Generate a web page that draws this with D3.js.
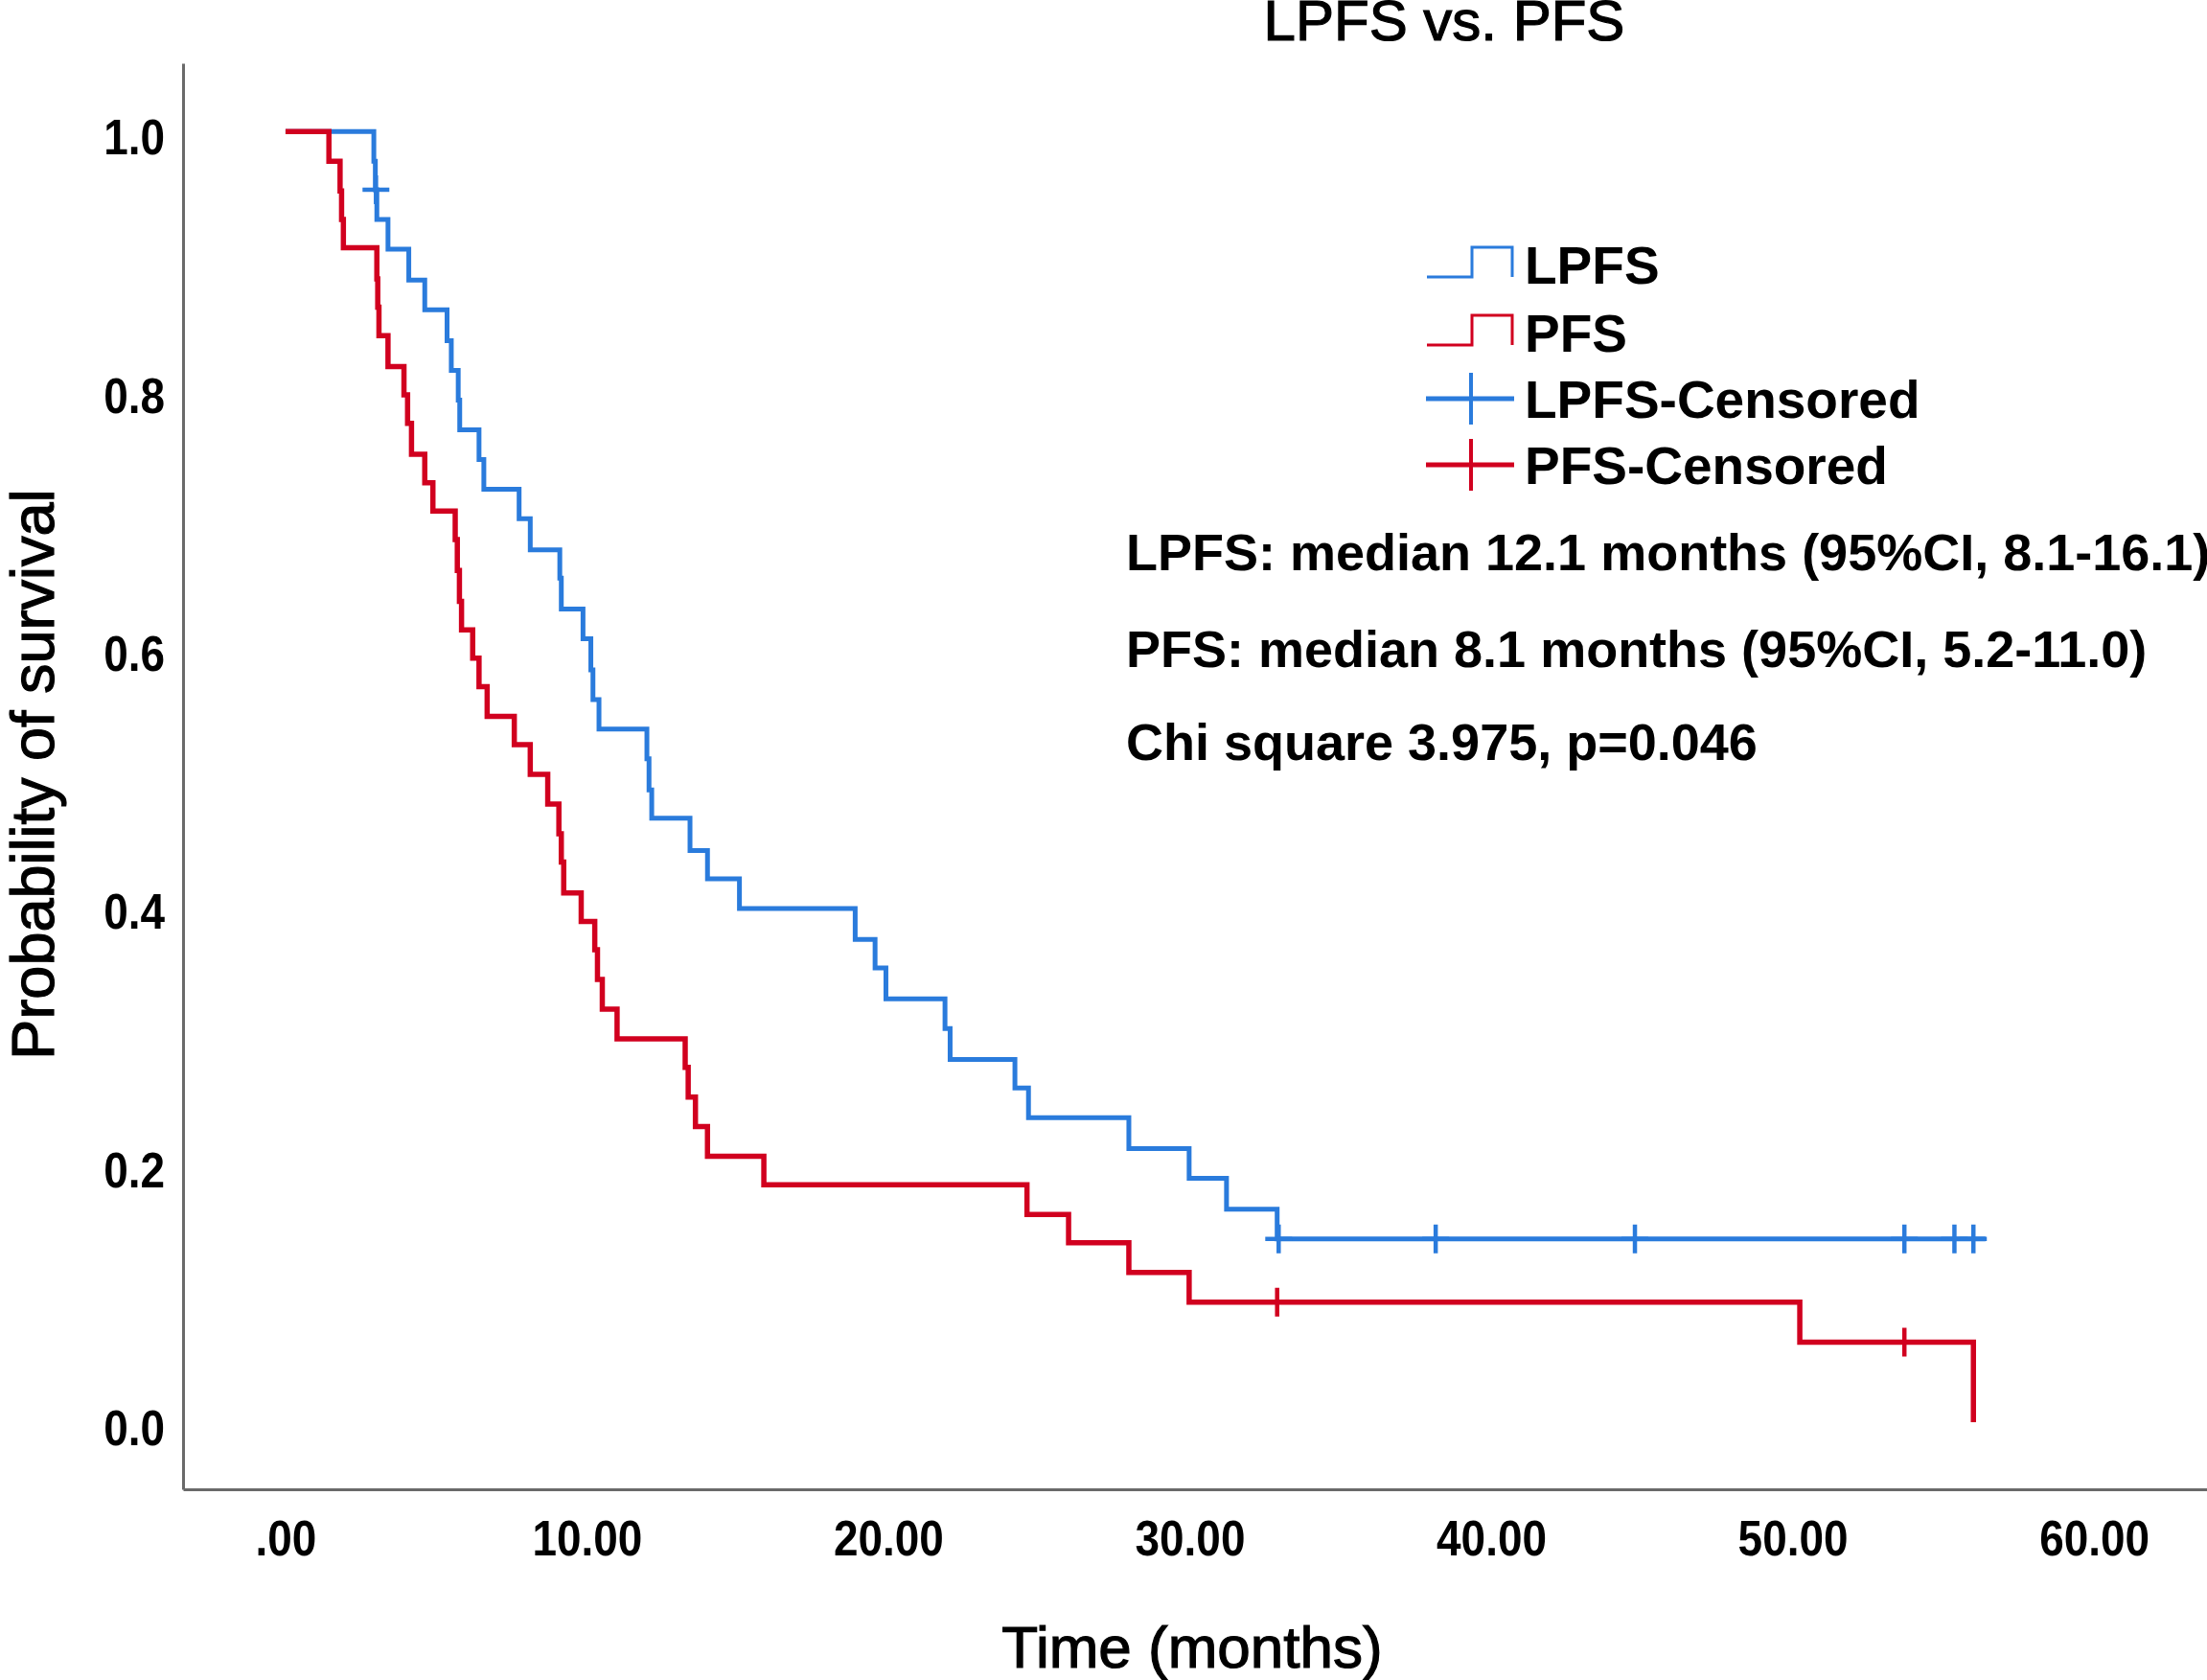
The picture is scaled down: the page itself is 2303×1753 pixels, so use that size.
<!DOCTYPE html>
<html>
<head>
<meta charset="utf-8">
<script src="https://cdn.jsdelivr.net/npm/d3@7"></script>
<style>
html, body { margin: 0; padding: 0; background: #ffffff; }
svg { display: block; }
</style>
</head>
<body>
<svg id="chart" width="2303" height="1753"></svg>
<script>
// ---------------- data ----------------
const chartTitle = "LPFS vs. PFS";
const xTitle = "Time (months)";
const yTitle = "Probability of survival";

const xTickValues = [0, 10, 20, 30, 40, 50, 60];
const xTickLabels = [".00", "10.00", "20.00", "30.00", "40.00", "50.00", "60.00"];
const yTickValues = [0, 0.2, 0.4, 0.6, 0.8, 1.0];
const yTickLabels = ["0.0", "0.2", "0.4", "0.6", "0.8", "1.0"];

// LPFS Kaplan-Meier steps: time of each drop and survival after it
const lpfsTimes = [0, 2.93, 2.98, 3.03, 3.40, 4.09, 4.62, 5.36, 5.50, 5.73, 5.78, 6.42, 6.58, 7.75, 8.12,
  9.10, 9.15, 9.87, 10.13, 10.20, 10.40, 11.99, 12.06, 12.15, 13.42, 14.00, 15.06, 18.90, 19.56,
  19.92, 21.88, 22.05, 24.20, 24.65, 27.98, 29.98, 31.22, 32.90, 56.40];
const lpfsSurv = [1.000, 0.977, 0.955, 0.932, 0.909, 0.885, 0.862, 0.838, 0.815, 0.792, 0.769, 0.746, 0.723, 0.700, 0.676,
  0.654, 0.630, 0.607, 0.583, 0.560, 0.537, 0.514, 0.490, 0.468, 0.443, 0.421, 0.398, 0.374, 0.352,
  0.328, 0.305, 0.281, 0.259, 0.236, 0.212, 0.189, 0.165, 0.142, 0.142];
const lpfsCensorTimes = [3.00, 32.95, 38.16, 44.77, 53.71, 55.37, 56.00];
const lpfsCensorSurv = [0.955, 0.142, 0.142, 0.142, 0.142, 0.142, 0.142];

// PFS Kaplan-Meier steps
const pfsTimes = [0, 1.44, 1.81, 1.86, 1.92, 3.03, 3.06, 3.10, 3.40, 3.93, 4.05, 4.18, 4.62, 4.89,
  5.63, 5.70, 5.77, 5.84, 6.21, 6.42, 6.69, 7.59, 8.12, 8.70, 9.07, 9.15, 9.23, 9.81, 10.26, 10.35,
  10.51, 11.00, 13.26, 13.36, 13.60, 14.00, 15.87, 24.60, 25.98, 27.98, 29.98, 50.24, 56.00];
const pfsSurv = [1.000, 0.977, 0.954, 0.932, 0.910, 0.886, 0.864, 0.842, 0.818, 0.796, 0.774, 0.750, 0.728, 0.706,
  0.684, 0.660, 0.636, 0.614, 0.592, 0.570, 0.547, 0.525, 0.502, 0.479, 0.456, 0.434, 0.410, 0.388, 0.366, 0.343,
  0.320, 0.297, 0.275, 0.252, 0.229, 0.206, 0.184, 0.161, 0.139, 0.116, 0.093, 0.062, 0.000];
const pfsCensorTimes = [32.90, 53.71];
const pfsCensorSurv = [0.093, 0.062];

const legendLabels = ["LPFS", "PFS", "LPFS-Censored", "PFS-Censored"];
const annotationLines = [
  "LPFS: median 12.1 months (95%CI, 8.1-16.1)",
  "PFS: median 8.1 months (95%CI, 5.2-11.0)",
  "Chi square 3.975, p=0.046"
];

// ---------------- styling ----------------
const BLUE = "#2a7bdc";
const RED = "#d1001f";
const AXIS = "#6a6a6a";
const FONT = "'Liberation Sans', Arial, Helvetica, sans-serif";
const TICK_SIZE = 51;
const TICK_SQUEEZE = 0.9;   // tick digits in the reference are slightly condensed

const svg = d3.select("#chart");

const x = d3.scaleLinear().domain([-3.4, 63.75]).range([191, 2303]);
const y = d3.scaleLinear().domain([-0.052, 1.053]).range([1554, 66]);

// axes
const yAxis = d3.axisLeft(y)
  .tickValues(yTickValues)
  .tickFormat((d, i) => yTickLabels[i])
  .tickSize(0).tickSizeOuter(0).tickPadding(19);
const gy = svg.append("g").attr("transform", `translate(${x.range()[0]},0)`).call(yAxis);
gy.select(".domain").attr("stroke", AXIS).attr("stroke-width", 3);
gy.selectAll("text")
  .attr("font-family", FONT).attr("font-weight", "bold").attr("font-size", TICK_SIZE)
  .attr("fill", "#000").attr("dy", "0.46em")
  .attr("x", -19 / TICK_SQUEEZE)
  .attr("transform", `scale(${TICK_SQUEEZE},1)`);

const xAxis = d3.axisBottom(x)
  .tickValues(xTickValues)
  .tickFormat((d, i) => xTickLabels[i])
  .tickSize(0).tickSizeOuter(0).tickPadding(33);
const gx = svg.append("g").attr("transform", `translate(0,${y.range()[0]})`).call(xAxis);
gx.select(".domain").attr("stroke", AXIS).attr("stroke-width", 3);
gx.selectAll("text")
  .attr("font-family", FONT).attr("font-weight", "bold").attr("font-size", TICK_SIZE)
  .attr("fill", "#000").attr("dy", "0.71em")
  .attr("transform", `scale(${TICK_SQUEEZE},1)`);

// curves
const line = d3.line()
  .x(d => x(d[0]))
  .y(d => y(d[1]))
  .curve(d3.curveStepAfter);

const series = [
  { times: lpfsTimes, surv: lpfsSurv, ct: lpfsCensorTimes, cs: lpfsCensorSurv, color: BLUE, width: 5 },
  { times: pfsTimes, surv: pfsSurv, ct: pfsCensorTimes, cs: pfsCensorSurv, color: RED, width: 5.5 }
];

const plot = svg.append("g");
series.forEach(s => {
  const pts = s.times.map((t, i) => [t, s.surv[i]]);
  plot.append("path")
    .attr("d", line(pts))
    .attr("fill", "none")
    .attr("stroke", s.color)
    .attr("stroke-width", s.width)
    .attr("stroke-linejoin", "miter");
  const cens = s.ct.map((t, i) => [t, s.cs[i]]);
  const g = plot.append("g");
  g.selectAll("line.v").data(cens).join("line")
    .attr("x1", d => x(d[0])).attr("x2", d => x(d[0]))
    .attr("y1", d => y(d[1]) - 15).attr("y2", d => y(d[1]) + 15)
    .attr("stroke", s.color).attr("stroke-width", 4.5);
  g.selectAll("line.h").data(cens).join("line")
    .attr("x1", d => x(d[0]) - 14).attr("x2", d => x(d[0]) + 14)
    .attr("y1", d => y(d[1])).attr("y2", d => y(d[1]))
    .attr("stroke", s.color).attr("stroke-width", 4.5);
});

// title
svg.append("text")
  .attr("x", 1507).attr("y", 42)
  .attr("text-anchor", "middle")
  .attr("font-family", FONT).attr("font-size", 60)
  .attr("fill", "#000").attr("stroke", "#000").attr("stroke-width", 1.2)
  .text(chartTitle);

// axis titles
svg.append("text")
  .attr("x", 1244).attr("y", 1740)
  .attr("text-anchor", "middle")
  .attr("font-family", FONT).attr("font-size", 62)
  .attr("fill", "#000").attr("stroke", "#000").attr("stroke-width", 1.2)
  .text(xTitle);

svg.append("text")
  .attr("transform", "translate(56,808) rotate(-90)")
  .attr("text-anchor", "middle")
  .attr("font-family", FONT).attr("font-size", 63)
  .attr("fill", "#000").attr("stroke", "#000").attr("stroke-width", 1.2)
  .text(yTitle);

// legend
const legend = svg.append("g");
const legendBaselines = [296, 367, 436, 505];
const legendColors = [BLUE, RED, BLUE, RED];
legendLabels.forEach((lab, i) => {
  const yb = legendBaselines[i];
  const c = legendColors[i];
  if (i < 2) {
    const lo = yb - 7, hi = yb - 38;
    legend.append("path")
      .attr("d", `M1489,${lo} H1536 V${hi} H1578 V${lo}`)
      .attr("fill", "none").attr("stroke", c).attr("stroke-width", 3);
  } else {
    const cy = yb - 20;
    legend.append("line").attr("x1", 1488).attr("x2", 1580).attr("y1", cy).attr("y2", cy)
      .attr("stroke", c).attr("stroke-width", 5);
    legend.append("line").attr("x1", 1535).attr("x2", 1535).attr("y1", cy - 27).attr("y2", cy + 27)
      .attr("stroke", c).attr("stroke-width", 4);
  }
  legend.append("text")
    .attr("x", 1591).attr("y", yb)
    .attr("font-family", FONT).attr("font-weight", "bold").attr("font-size", 55)
    .attr("fill", "#000")
    .text(lab);
});

// annotations
const annBaselines = [595, 696, 793];
annotationLines.forEach((t, i) => {
  svg.append("text")
    .attr("x", 1175).attr("y", annBaselines[i])
    .attr("font-family", FONT).attr("font-weight", "bold").attr("font-size", 54)
    .attr("fill", "#000")
    .text(t);
});
</script>
</body>
</html>
